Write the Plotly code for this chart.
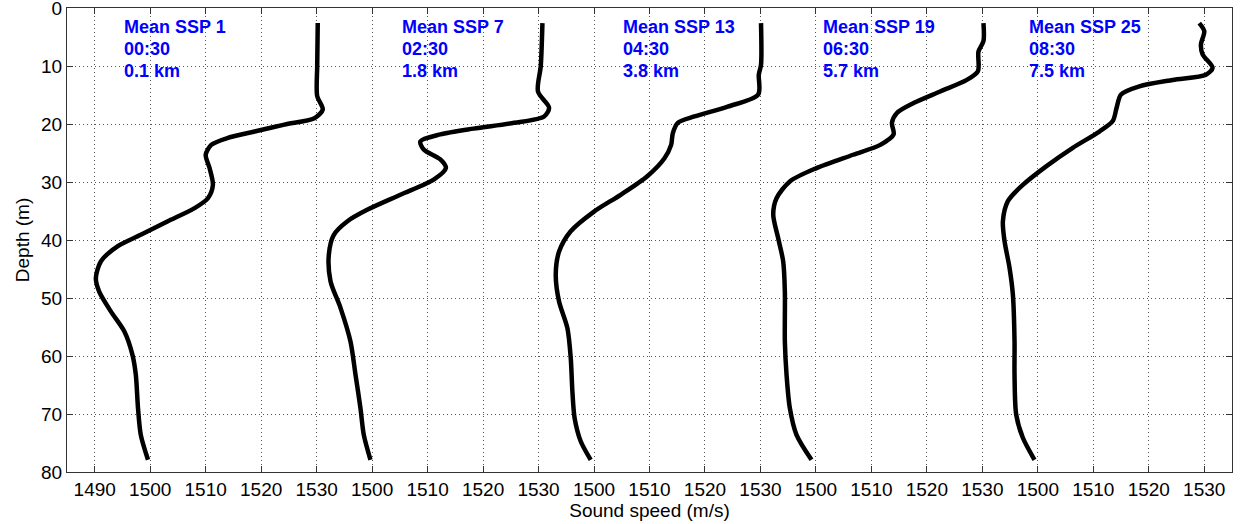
import plotly.graph_objects as go

# Panel offsets (m/s) added so profiles sit side by side on one axis
offsets = [0, 40, 80, 120, 160]
ssp_names = ["Mean SSP 1", "Mean SSP 7", "Mean SSP 13", "Mean SSP 19", "Mean SSP 25"]
ssp_times = ["00:30", "02:30", "04:30", "06:30", "08:30"]
ssp_ranges = ["0.1 km", "1.8 km", "3.8 km", "5.7 km", "7.5 km"]

# Profile 1 (SSP 1)
depth1 = [2.6, 10, 15.2, 17.5, 19, 20.1, 21.3, 22.4, 23.6, 25.3, 27.6, 30.5, 32.8, 34.5, 36.8,
          39.1, 41.1, 43.7, 46.6, 48.9, 52.3, 55.7, 59.8, 63.2, 69, 73.6, 77.9]
speed1 = [1530.2, 1530.1, 1530.1, 1531.1, 1529.6, 1524.2, 1518.8, 1514.0, 1511.0, 1510.0, 1510.7,
          1511.3, 1510.4, 1508.0, 1503.1, 1498.3, 1494.1, 1491.1, 1490.2, 1490.8, 1492.9, 1495.3,
          1496.8, 1497.4, 1497.8, 1498.3, 1499.6]
# Profile 2 (SSP 7)
depth2 = [2.6, 10, 14.4, 17.2, 18.7, 19.8, 20.8, 21.8, 23.0, 24.4, 26.1, 27.6, 29.6, 32.2, 34.8,
          36.8, 39.1, 42.5, 47.1, 51.7, 57.5, 63.2, 69, 73.6, 77.9]
speed2 = [1530.7, 1530.4, 1529.9, 1531.9, 1531.0, 1525.6, 1518.3, 1512.3, 1508.7, 1509.3, 1512.3,
          1513.3, 1511.1, 1505.1, 1499.1, 1495.5, 1493.1, 1492.2, 1492.5, 1494.3, 1496.1, 1497.0,
          1497.9, 1498.5, 1499.7]
# Profile 3 (SSP 13)
depth3 = [2.6, 9.8, 11.5, 14.9, 17.0, 18.7, 19.8, 21.6, 23.6, 25.9, 29.0, 32.2, 35.1, 38.5, 42.0,
          46.0, 50.6, 55.2, 60.3, 66.1, 70.7, 74.7, 77.9]
speed3 = [1530.1, 1530.1, 1529.7, 1529.6, 1524.1, 1518.1, 1515.1, 1514.2, 1513.9, 1512.7, 1509.6,
          1504.8, 1500.0, 1495.8, 1493.7, 1493.1, 1493.7, 1495.2, 1495.8, 1496.1, 1496.5, 1497.6,
          1499.4]
# Profile 4 (SSP 19)
depth4 = [2.6, 5.7, 7.5, 10.9, 12.4, 14.4, 16.4, 18.1, 19.8, 21.8, 23.6, 25.3, 27.6, 29.9, 32.8,
          35.6, 39.7, 43.7, 48.9, 57.5, 63.2, 69, 73.6, 77.9]
speed4 = [1530.2, 1530.2, 1529.3, 1529.2, 1527.2, 1522.4, 1517.6, 1514.6, 1513.7, 1514.0, 1511.6,
          1506.7, 1500.1, 1495.3, 1492.9, 1492.3, 1493.2, 1494.1, 1494.4, 1494.4, 1494.7, 1495.3,
          1496.5, 1499.2]
# Profile 5 (SSP 25)
depth5 = [2.6, 4.0, 6.3, 8.0, 10.3, 11.5, 12.4, 13.5, 14.9, 17.2, 19.5, 21.3, 24.1, 27.3, 30.5,
          33.3, 36.8, 40.2, 44.8, 49.4, 57.5, 63.2, 70.1, 74.1, 77.9]
speed5 = [1529.1, 1530.0, 1529.4, 1529.7, 1531.5, 1530.3, 1524.3, 1518.3, 1515.0, 1514.2, 1513.5,
          1511.1, 1506.3, 1501.5, 1497.3, 1494.6, 1493.7, 1494.0, 1494.9, 1495.5, 1495.8, 1495.8,
          1496.1, 1497.3, 1499.4]

depths = [depth1, depth2, depth3, depth4, depth5]
speeds = [speed1, speed2, speed3, speed4, speed5]

# Tick labels
first_ticks = [1490, 1500, 1510, 1520, 1530]
other_ticks = [1500, 1510, 1520, 1530]
tickvals, ticktext = [], []
for i, off in enumerate(offsets):
    for t in (first_ticks if i == 0 else other_ticks):
        tickvals.append(t + off)
        ticktext.append(str(t))

# label anchor positions (data units, panel-relative speed; depth of each text line)
label_x = [1494.9, 1505.05, 1504.9, 1501.0, 1498.0]
line_y = [3.3, 7.0, 10.8]

fig = go.Figure()
for d, s, off in zip(depths, speeds, offsets):
    fig.add_trace(go.Scatter(x=[v + off for v in s], y=d, mode="lines",
                             line=dict(color="black", width=4.5, shape="spline", smoothing=0.8),
                             showlegend=False, hoverinfo="skip"))

for i, off in enumerate(offsets):
    for txt, ly in zip([ssp_names[i], ssp_times[i], ssp_ranges[i]], line_y):
        fig.add_annotation(x=label_x[i] + off, y=ly, xref="x", yref="y", text="<b>" + txt + "</b>",
                           showarrow=False, xanchor="left", yanchor="middle", align="left",
                           font=dict(family="Arial", size=18, color="#0000FF"))

axis_common = dict(showline=True, linecolor="#333333", linewidth=1, mirror="ticks",
                   ticks="inside", ticklen=6, tickcolor="#333333",
                   showgrid=True, gridcolor="#555555", gridwidth=1, griddash="1px,3px",
                   zeroline=False, ticklabeloverflow="allow",
                   tickfont=dict(family="Arial", size=19, color="black"))

fig.update_xaxes(range=[1485, 1695], tickvals=tickvals, ticktext=ticktext,
                 title=dict(text="Sound speed (m/s)", font=dict(family="Arial", size=19, color="black"),
                            standoff=2), **axis_common)
fig.update_yaxes(range=[80, 0], tickvals=[0, 10, 20, 30, 40, 50, 60, 70, 80],
                 title=dict(text="Depth (m)", font=dict(family="Arial", size=19, color="black"),
                            standoff=6), **axis_common)

fig.update_layout(width=1243, height=524, margin=dict(l=67, r=11, t=8, b=52, autoexpand=False),
                  plot_bgcolor="white", paper_bgcolor="white")

fig.write_html("out.html", config={"displayModeBar": False},
               post_script="document.body.style.margin='0';")
